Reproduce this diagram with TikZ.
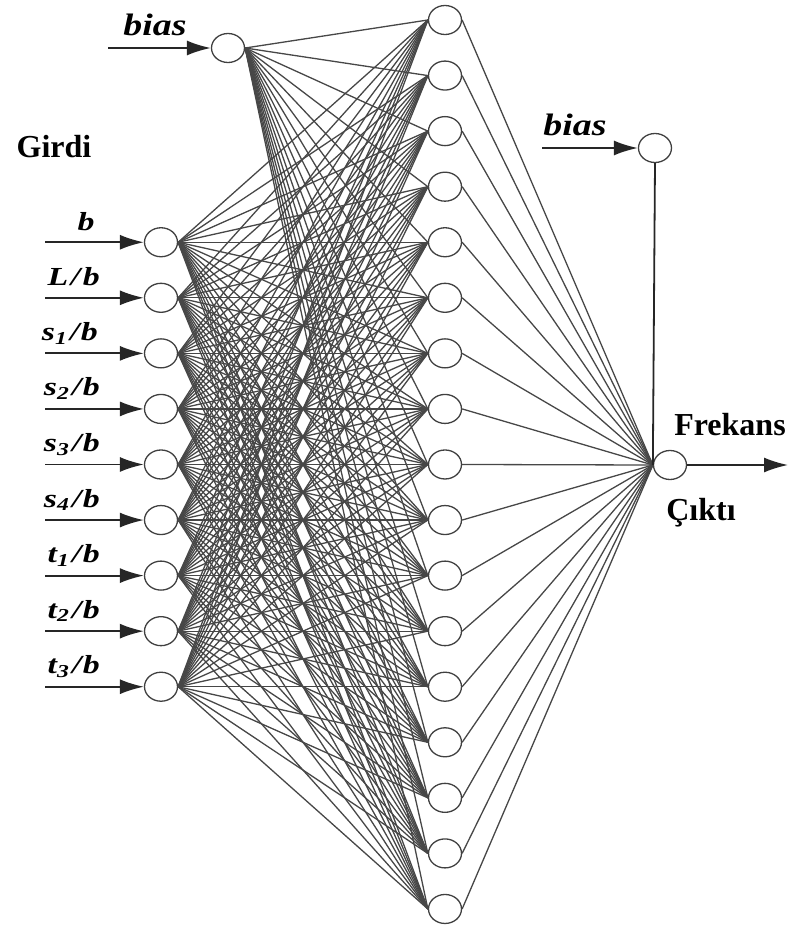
\documentclass[tikz,border=0pt]{standalone}
\usepackage{fontspec}
\setmainfont{Liberation Serif}
\usetikzlibrary{shapes.geometric,arrows.meta}
\newcommand{\wlab}[1]{\scalebox{1.3}[1]{#1}}
\newcommand{\wbias}[1]{\scalebox{1.22}[1]{#1}}
\begin{document}
\begin{tikzpicture}[x=1pt,y=-1pt,
 neuron/.style={ellipse,draw=black!75,line width=1.3pt,minimum width=33pt,minimum height=29pt,inner sep=0pt},
 conn/.style={draw=black!72,line width=1.3pt},
 inarrow/.style={draw=black!85,line width=1.8pt,-{Latex[length=24pt,width=15pt]}},
 lab/.style={font=\fontsize{26}{26}\selectfont\bfseries\itshape,inner sep=0pt},
 biaslab/.style={font=\fontsize{31}{31}\selectfont\bfseries\itshape,inner sep=0pt},
 ttl/.style={font=\fontsize{32}{32}\selectfont\bfseries,inner sep=0pt}]
\useasboundingbox (0,0) rectangle (794,932);
% nodes
\foreach \j in {1,...,17} \node[neuron] (h\j) at (445,{20+55.56*(\j-1)}) {};
\foreach \i in {1,...,9} \node[neuron] (in\i) at (161,{20+55.56*(\i+3)}) {};
\node[neuron] (bias) at (228,48) {};
\node[neuron] (obias) at (655,148) {};
\node[neuron] (out) at (670,465) {};
% connections
\foreach \j in {1,...,17} {
  \draw[conn] (bias.east) -- (h\j.west);
  \foreach \i in {1,...,9} \draw[conn] (in\i.east) -- (h\j.west);
  \draw[conn] (h\j.east) -- (out.west);
}
\draw[draw=black!85,line width=1.8pt] (obias.south) -- (out.west);
% input arrows
\foreach \i in {1,...,9} {
  \coordinate (s\i) at (45,{20+55.56*(\i+3)});
  \draw[inarrow] (s\i) -- (in\i.west);
}
\coordinate (sb) at (108,48);
\draw[inarrow] (sb) -- (bias.west);
\coordinate (sob) at (542,148);
\draw[inarrow] (sob) -- (obias.west);
\coordinate (eout) at (788,465);
\draw[inarrow] (out.east) -- (eout);
% labels
\node[lab,anchor=base] (l1) at (86,230) {\wlab{b}};
\node[lab,anchor=base east] (l2) at (100,{20+55.56*5-12}) {\wlab{L\kern2pt/\kern2pt b}};
\node[lab,anchor=base east] (l3) at (98,{20+55.56*6-13}) {\wlab{s\textsubscript{1}\kern2pt/\kern1pt b}};
\node[lab,anchor=base east] (l4) at (100,{20+55.56*7-13}) {\wlab{s\textsubscript{2}\kern2pt/\kern1pt b}};
\node[lab,anchor=base east] (l5) at (100,{20+55.56*8-13}) {\wlab{s\textsubscript{3}\kern2pt/\kern1pt b}};
\node[lab,anchor=base east] (l6) at (100,{20+55.56*9-13}) {\wlab{s\textsubscript{4}\kern2pt/\kern1pt b}};
\node[lab,anchor=base east] (l7) at (100,{20+55.56*10-13}) {\wlab{t\textsubscript{1}\kern2pt/\kern1pt b}};
\node[lab,anchor=base east] (l8) at (100,{20+55.56*11-13}) {\wlab{t\textsubscript{2}\kern2pt/\kern1pt b}};
\node[lab,anchor=base east] (l9) at (100,{20+55.56*12-13}) {\wlab{t\textsubscript{3}\kern2pt/\kern1pt b}};
\node[biaslab,anchor=base] (lb) at (155,35) {\wbias{bias}};
\node[biaslab,anchor=base] (lob) at (575,135) {\wbias{bias}};
\node[ttl,anchor=base] (girdi) at (54,157) {Girdi};
\node[ttl,anchor=base] (frek) at (730,435) {Frekans};
\node[ttl,anchor=base] (cikti) at (701,520) {Çıktı};
\end{tikzpicture}
\end{document}
